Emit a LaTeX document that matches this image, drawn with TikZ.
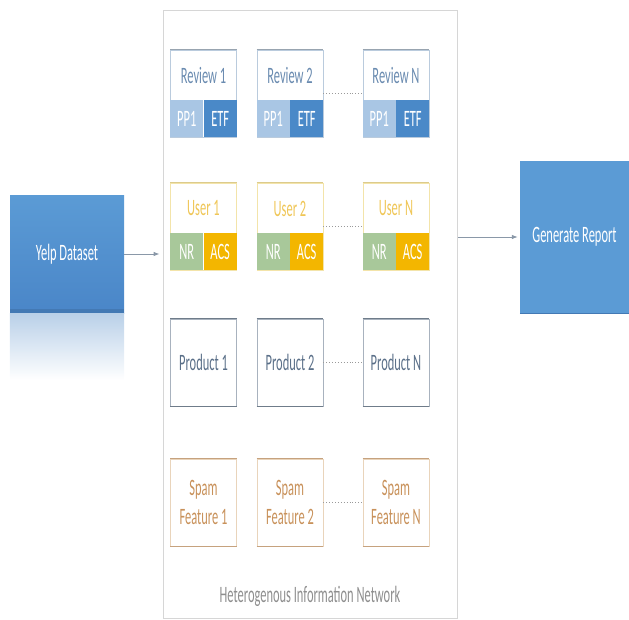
\documentclass[tikz,border=0pt]{standalone}
\usepackage{fontspec}
\newfontfamily\diagfont[FakeStretch=0.53]{Carlito}
\usetikzlibrary{arrows.meta, positioning}
\definecolor{panelgray}{HTML}{D6D6D6}
\definecolor{titlegray}{HTML}{8E8E8E}
\definecolor{arrowgray}{HTML}{8A98A8}
\definecolor{linkgray}{HTML}{9A9A9A}
\definecolor{boxblue}{HTML}{5B9BD5}
\definecolor{boxbluedark}{HTML}{4A86C8}
\definecolor{boxedge}{HTML}{4379B4}
\definecolor{mirror}{HTML}{B9D0E8}
\definecolor{revtext}{HTML}{6A8BB0}
\definecolor{revside}{HTML}{BACBDD}
\definecolor{revtop}{HTML}{98A4B0}
\definecolor{pplight}{HTML}{A9C6E4}
\definecolor{etfblue}{HTML}{4A89C8}
\definecolor{usertext}{HTML}{EFC657}
\definecolor{userside}{HTML}{F3E4AA}
\definecolor{usertop}{HTML}{DCCB8C}
\definecolor{nrgreen}{HTML}{A8C89A}
\definecolor{acsgold}{HTML}{F3B600}
\definecolor{prodtext}{HTML}{5A6F88}
\definecolor{prodside}{HTML}{A8B2BE}
\definecolor{prodtop}{HTML}{6F7C8A}
\definecolor{spamtext}{HTML}{C8915A}
\definecolor{spamside}{HTML}{E9D4BB}
\definecolor{spamtop}{HTML}{C6A27E}
\tikzset{
    flow/.style={x=1pt, y=-1pt, font=\diagfont\fontsize{23.5}{29}\selectfont},
    panel/.style={draw=panelgray, line width=0.8pt, minimum width=294pt, minimum height=608pt, inner sep=0pt},
    bigbox/.style={text=white, inner sep=0pt, align=center},
    cell/.style={draw, line width=0.8pt, minimum width=66pt, minimum height=87pt, inner sep=0pt, align=center},
    band/.style={minimum width=33pt, minimum height=37pt, inner sep=0pt, text=white},
    edge/.style={line width=1.4pt},
    feed/.style={-{Latex[length=6pt,width=4.5pt]}, draw=arrowgray, line width=0.8pt},
    link/.style={dotted, draw=linkgray, line width=0.9pt},
}
\begin{document}
\begin{tikzpicture}[flow]
    \useasboundingbox (0,0) rectangle (629,619);
    \node[panel] (hin) at (310,314) {};
    \node[text=titlegray] (hintitle) at (310,596) {Heterogenous Information Network};

    % source and sink
    \node[bigbox, minimum width=114pt, minimum height=118pt, top color=boxblue, bottom color=boxbluedark] (yelp) at (67,254) {Yelp Dataset};
    \fill[boxedge] (yelp.south west) rectangle ([yshift=4pt]yelp.south east);
    \shade[top color=mirror, bottom color=white] (yelp.south west) rectangle ([yshift=-67pt]yelp.south east);
    \node[bigbox, minimum width=109pt, minimum height=152pt, fill=boxblue] (report) at (574.5,237) {Generate Report};
    \draw[boxedge, edge] (report.south west) -- (report.south east);

    \draw[feed, shorten >=3pt] (yelp.east) -- (yelp.east -| hin.west);
    \draw[feed, shorten <=1pt, shorten >=2pt] (report.west -| hin.east) -- (report.west);

    % one column per instance
    \foreach \c/\x/\n in {1/203.5/1, 2/290/2, 3/396/N} {
        \node[cell, draw=revside] (rev\c) at (\x,93.5) {};
        \node[text=revtext] (revt\c) at ([yshift=18pt]rev\c.center) {Review \n};
        \node[band, fill=pplight, anchor=south west] (pp\c) at (rev\c.south west) {PP1};
        \node[band, fill=etfblue, anchor=south east] (etf\c) at (rev\c.south east) {ETF};
        \draw[revtop, edge] (rev\c.north west) -- (rev\c.north east);

        \node[cell, draw=userside] (usr\c) at (\x,226.5) {};
        \node[text=usertext] (usrt\c) at ([yshift=18pt]usr\c.center) {User \n};
        \node[band, fill=nrgreen, anchor=south west] (nr\c) at (usr\c.south west) {NR};
        \node[band, fill=acsgold, anchor=south east] (acs\c) at (usr\c.south east) {ACS};
        \draw[usertop, edge] (usr\c.north west) -- (usr\c.north east);

        \node[cell, draw=prodside, text=prodtext] (prod\c) at (\x,362.5) {Product \n};
        \draw[prodtop, edge] (prod\c.north west) -- (prod\c.north east);
        \draw[prodtop, edge] (prod\c.south west) -- (prod\c.south east);

        \node[cell, draw=spamside, text=spamtext] (spam\c) at (\x,502.5) {Spam\\Feature \n};
        \draw[spamtop, edge] (spam\c.north west) -- (spam\c.north east);
        \draw[spamtop, edge] (spam\c.south west) -- (spam\c.south east);
    }

    % dotted links to the last instance
    \draw[link] (rev2) -- (rev3);
    \draw[link] (usr2) -- (usr3);
    \draw[link] (prod2) -- (prod3);
    \draw[link] (spam2) -- (spam3);
\end{tikzpicture}
\end{document}
